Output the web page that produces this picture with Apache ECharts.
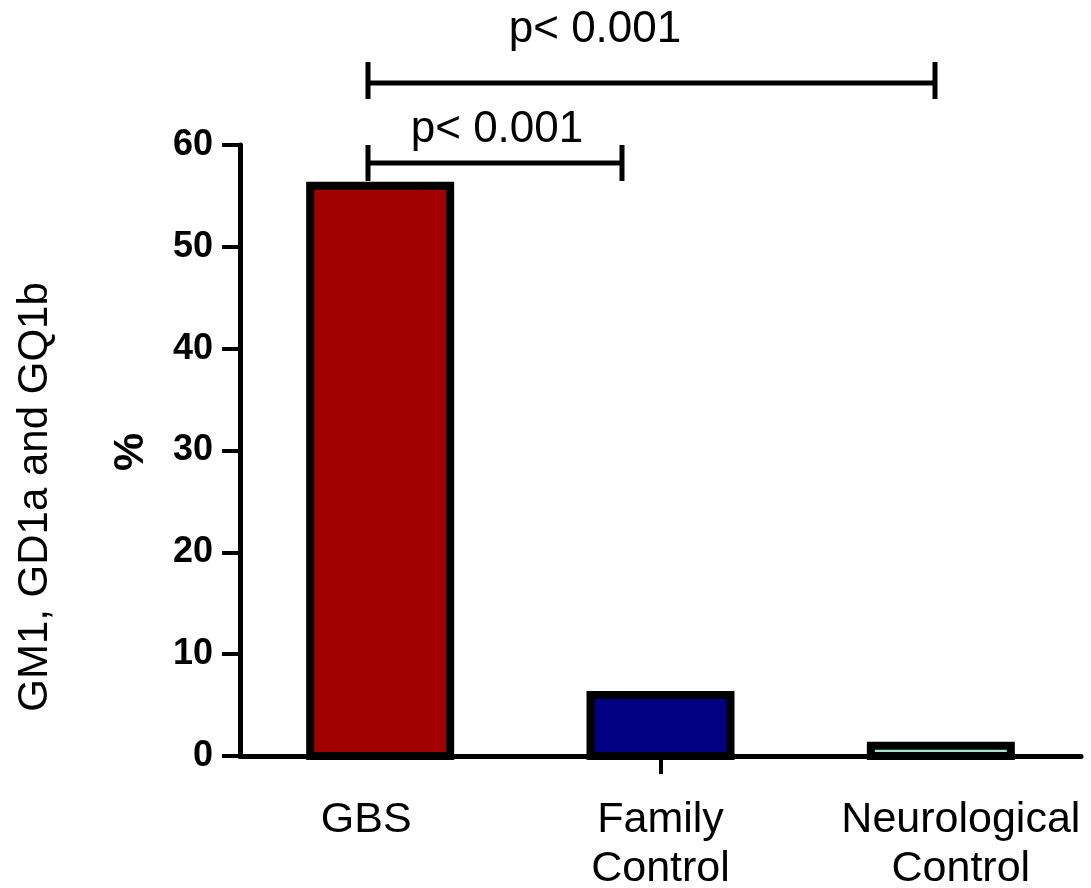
<!DOCTYPE html>
<html>
<head>
<meta charset="utf-8">
<script src="https://cdn.jsdelivr.net/npm/echarts@6/dist/echarts.min.js"></script>
<style>
  html, body { margin: 0; padding: 0; background: #ffffff; overflow: hidden; }
  #chart { width: 1091px; height: 888px; }
</style>
</head>
<body>
<div id="chart"></div>
<script>
// Antibody positivity (GM1, GD1a and GQ1b) per group, in percent
const categories = ['GBS', 'Family\nControl', 'Neurological\nControl'];
const percentValues = [56, 6, 1];
const barColors = ['#a00000', '#000080', '#a6e4d2'];
const yTicks = [0, 10, 20, 30, 40, 50, 60];
const pLabels = ['p< 0.001', 'p< 0.001'];

const FONT = '"Liberation Sans", Arial, sans-serif';
const BAR_WIDTH = 140;   // centre-to-centre of the outline
const OUTLINE = 8;

const chart = echarts.init(document.getElementById('chart'));

// Bars drawn with the outline centred on the bar edge (value line and baseline)
function renderBar(params, api) {
  const idx = api.value(0);
  const val = api.value(1);
  const top = api.coord([idx, val]);
  const base = api.coord([idx, 0]);
  return {
    type: 'rect',
    shape: {
      x: top[0] - BAR_WIDTH / 2,
      y: top[1],
      width: BAR_WIDTH,
      height: base[1] - top[1]
    },
    style: {
      fill: barColors[idx],
      stroke: '#000',
      lineWidth: OUTLINE
    }
  };
}

// category label styles: the outer labels sit slightly off the bar centres
const labelBase = { fontFamily: FONT, fontSize: 43, lineHeight: 49, color: '#000' };
const labelRich = {
  c0: Object.assign({ padding: [0, 28, 0, 0] }, labelBase),
  c1: Object.assign({ padding: [0, 0, 0, 0] }, labelBase),
  c2: Object.assign({ padding: [0, 0, 0, 40] }, labelBase)
};

chart.setOption({
  animation: false,
  backgroundColor: '#ffffff',
  grid: {
    left: 240, right: 10, top: 145, bottom: 132,
    containLabel: false,
    outerBoundsMode: 'none'
  },
  xAxis: {
    type: 'category',
    data: categories,
    boundaryGap: true,
    z: 10,
    axisLine: { show: true, lineStyle: { color: '#000', width: 5 } },
    axisTick: {
      show: true,
      alignWithLabel: true,
      length: 18,
      interval: function (index) { return index === 1; },
      lineStyle: { color: '#000', width: 4 }
    },
    axisLabel: {
      color: '#000',
      fontFamily: FONT,
      fontSize: 43,
      lineHeight: 49,
      margin: 40,
      interval: 0,
      formatter: function (value, index) {
        return value.split('\n').map(function (line) {
          return '{c' + index + '|' + line + '}';
        }).join('\n');
      },
      rich: labelRich
    },
    splitLine: { show: false }
  },
  yAxis: {
    type: 'value',
    min: yTicks[0],
    max: yTicks[yTicks.length - 1],
    interval: 10,
    z: 10,
    axisLine: { show: true, lineStyle: { color: '#000', width: 5 } },
    axisTick: { show: true, length: 18, lineStyle: { color: '#000', width: 4 } },
    axisLabel: {
      color: '#000',
      fontFamily: FONT,
      fontSize: 36,
      fontWeight: 'bold',
      margin: 27
    },
    splitLine: { show: false }
  },
  series: [{
    type: 'custom',
    renderItem: renderBar,
    encode: { x: 0, y: 1 },
    data: percentValues.map((v, i) => [i, v]),
    z: 2
  }],
  graphic: [
    {
      type: 'text',
      x: 35, y: 497, rotation: Math.PI / 2,
      style: {
        text: 'GM1, GD1a and GQ1b',
        font: '42px ' + FONT,
        fill: '#000',
        align: 'center',
        verticalAlign: 'middle'
      }
    },
    {
      type: 'text',
      x: 131, y: 452, rotation: Math.PI / 2,
      style: {
        text: '%',
        font: 'bold 43px ' + FONT,
        fill: '#000',
        align: 'center',
        verticalAlign: 'middle'
      }
    },
    // upper bracket: GBS vs Neurological Control
    {
      type: 'line',
      shape: { x1: 368, y1: 62, x2: 368, y2: 99 },
      style: { stroke: '#000', lineWidth: 5 }
    },
    {
      type: 'line',
      shape: { x1: 935, y1: 62, x2: 935, y2: 99 },
      style: { stroke: '#000', lineWidth: 5 }
    },
    {
      type: 'line',
      shape: { x1: 368, y1: 83, x2: 935, y2: 83 },
      style: { stroke: '#000', lineWidth: 5 }
    },
    {
      type: 'text',
      x: 595, y: 30,
      style: {
        text: pLabels[0],
        font: '44px ' + FONT,
        fill: '#000',
        align: 'center',
        verticalAlign: 'middle'
      }
    },
    // lower bracket: GBS vs Family Control
    {
      type: 'line',
      shape: { x1: 368, y1: 145, x2: 368, y2: 181 },
      style: { stroke: '#000', lineWidth: 5 }
    },
    {
      type: 'line',
      shape: { x1: 622, y1: 145, x2: 622, y2: 181 },
      style: { stroke: '#000', lineWidth: 5 }
    },
    {
      type: 'line',
      shape: { x1: 368, y1: 163, x2: 622, y2: 163 },
      style: { stroke: '#000', lineWidth: 5 }
    },
    {
      type: 'text',
      x: 497, y: 130,
      style: {
        text: pLabels[1],
        font: '44px ' + FONT,
        fill: '#000',
        align: 'center',
        verticalAlign: 'middle'
      }
    }
  ]
});
</script>
</body>
</html>
